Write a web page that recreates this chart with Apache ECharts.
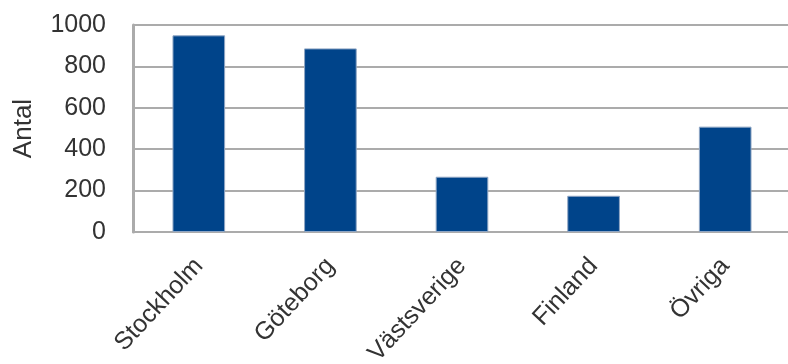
<!DOCTYPE html>
<html>
<head>
<meta charset="utf-8">
<script src="https://cdn.jsdelivr.net/npm/echarts@6/dist/echarts.min.js"></script>
<style>
  html, body { margin: 0; padding: 0; background: #ffffff; }
  #chart { width: 788px; height: 364px; }
</style>
</head>
<body>
<div id="chart"></div>
<script>
// Antal per region
const categories = ['Stockholm', 'Göteborg', 'Västsverige', 'Finland', 'Övriga'];
const antal = [950, 887, 267, 175, 509];
const yTicks = [0, 200, 400, 600, 800, 1000];

const chart = echarts.init(document.getElementById('chart'), null, { renderer: 'canvas' });

const gridGray = '#ababab';
const textColor = '#333333';
const font = 'Liberation Sans, Arial, sans-serif';

chart.setOption({
  animation: false,
  backgroundColor: '#ffffff',
  grid: {
    left: 133, top: 25, width: 658, height: 207,
    containLabel: false,
    outerBoundsMode: 'none'
  },
  xAxis: {
    type: 'category',
    data: categories,
    axisTick: { show: false },
    axisLine: { show: true, lineStyle: { color: gridGray, width: 2 } },
    axisLabel: {
      rotate: 47,
      margin: 30,
      color: textColor,
      fontFamily: font,
      fontSize: 25,
      interval: 0
    }
  },
  yAxis: {
    type: 'value',
    min: yTicks[0],
    max: yTicks[yTicks.length - 1],
    interval: yTicks[1] - yTicks[0],
    name: 'Antal',
    nameLocation: 'middle',
    nameRotate: 90,
    nameGap: 96,
    nameTextStyle: { color: textColor, fontFamily: font, fontSize: 26 },
    axisLine: { show: true, lineStyle: { color: gridGray, width: 3 } },
    axisTick: { show: false },
    axisLabel: {
      color: textColor,
      fontFamily: font,
      fontSize: 25,
      margin: 27,
      formatter: (v) => String(v)
    },
    splitLine: { show: true, lineStyle: { color: gridGray, width: 2 } }
  },
  series: [{
    type: 'bar',
    data: antal,
    barWidth: '40%',
    itemStyle: { color: '#00448a', borderColor: '#8fa6c4', borderWidth: 1 }
  }]
});
</script>
</body>
</html>
